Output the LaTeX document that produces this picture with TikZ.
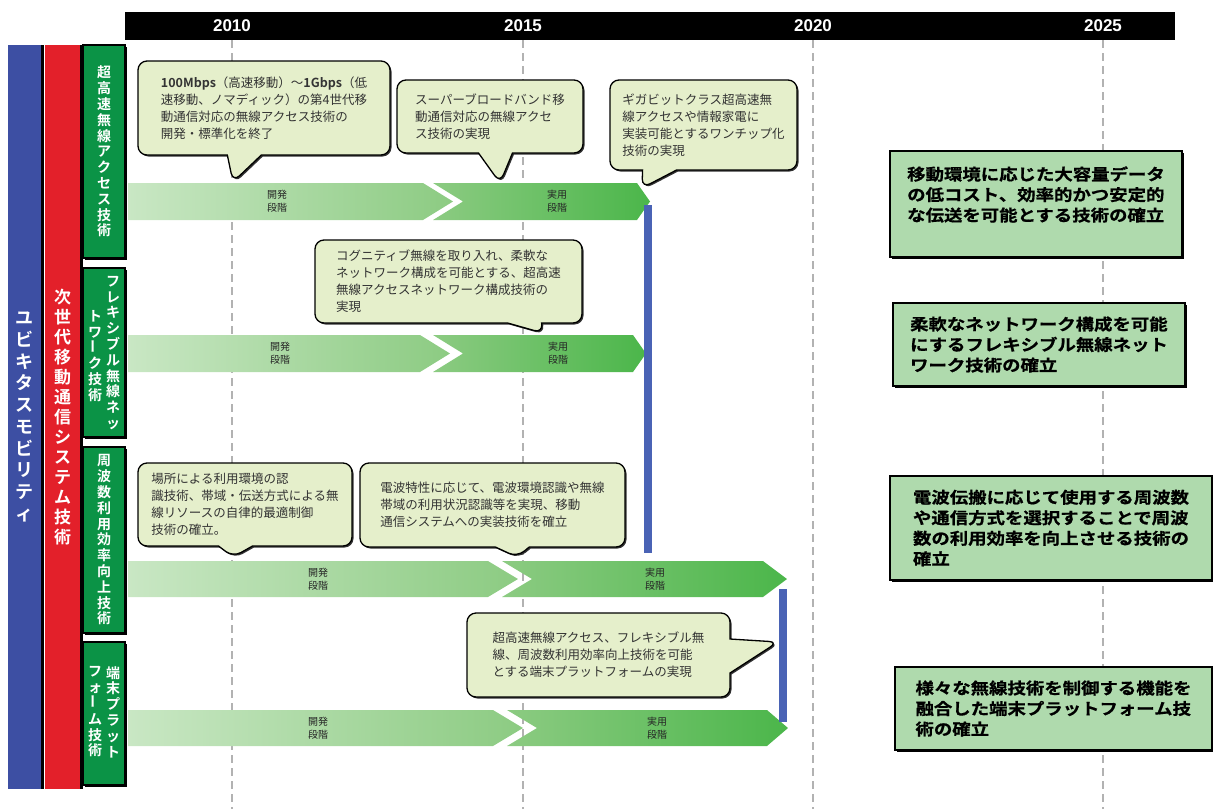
\documentclass[tikz,border=0pt]{standalone}
\usepackage{fontspec}
\setmainfont{Liberation Sans}
\newfontfamily\jp{Noto Sans CJK JP}[BoldFont={Noto Sans CJK JP Bold}]
\newfontfamily\jpwide{Noto Sans CJK JP Bold}[FakeStretch=1.15, FakeBold=0.8]
\usetikzlibrary{shapes.callouts,shadows}
\definecolor{ubiblue}{HTML}{3D4FA3}
\definecolor{sysred}{HTML}{E3202A}
\definecolor{techgreen}{HTML}{0B9346}
\definecolor{bubblefill}{HTML}{E5EFCB}
\definecolor{goalfill}{HTML}{AFDAAD}
\definecolor{stagelight}{HTML}{C9E7C4}
\definecolor{stagemid}{HTML}{8CCB82}
\definecolor{stagedark}{HTML}{4BB64A}
\definecolor{msblue}{HTML}{4A63B5}

\begin{document}
\begin{tikzpicture}[x=1pt, y=-1pt,
    yearlabel/.style={text=white, font=\bfseries\fontsize{17}{17}\selectfont},
    yearline/.style={draw=black!30, line width=2.5pt, dash pattern=on 8pt off 5pt},
    mainbar/.style={minimum height=744pt, inner sep=0pt, text=white, align=center,
      drop shadow={shadow xshift=3pt, shadow yshift=0pt, fill=black, opacity=1}},
    techbox/.style={draw=black, line width=1.5pt, fill=techgreen, minimum width=42pt,
      inner sep=0pt, text=white, align=center, font=\jp\bfseries\fontsize{14}{15.8}\selectfont,
      drop shadow={shadow xshift=2pt, shadow yshift=-2pt, fill=black, opacity=1}},
    techtext/.style={text=white, align=center, inner sep=0pt, font=\jp\bfseries\fontsize{14}{15.8}\selectfont},
    bubble/.style={rectangle callout, rounded corners=9pt, draw=black, line width=1.3pt,
      fill=bubblefill, callout pointer width=34pt, align=left, inner sep=0pt, text=black!80,
      font=\jp\fontsize{12.5}{17}\selectfont,
      drop shadow={shadow xshift=1.5pt, shadow yshift=-1.5pt, fill=black!80, opacity=1}},
    goal/.style={draw=black, line width=1.3pt, fill=goalfill, align=left, inner sep=0pt,
      font=\jpwide\fontsize{16}{20.5}\selectfont,
      drop shadow={shadow xshift=2pt, shadow yshift=-2pt, fill=black, opacity=1}},
    stage/.style={align=center, inner sep=0pt, text=black!85, font=\jp\fontsize{10}{13}\selectfont},
    milestone/.style={draw=msblue, line width=8pt}]
  \useasboundingbox (0,0) rectangle (1213,809);

  \node[fill=black, minimum width=1050pt, minimum height=28pt, inner sep=0pt] (timeline) at (650,26) {};
  \node[yearlabel] (y2010) at (232,26) {2010};
  \node[yearlabel] (y2015) at (523,26) {2015};
  \node[yearlabel] (y2020) at (813,26) {2020};
  \node[yearlabel] (y2025) at (1103,26) {2025};
  \draw[yearline] (232,40) -- (232,809);
  \draw[yearline] (523,40) -- (523,809);
  \draw[yearline] (813,40) -- (813,809);
  \draw[yearline] (1103,40) -- (1103,809);

  \node[mainbar, minimum width=33pt, fill=ubiblue, font=\jp\bfseries\fontsize{18}{21.7}\selectfont]
    (ubi) at (24.5,417) {ユ\\ビ\\キ\\タ\\ス\\モ\\ビ\\リ\\テ\\ィ};
  \node[mainbar, minimum width=35pt, fill=sysred, font=\jp\bfseries\fontsize{17}{20}\selectfont]
    (sys) at (62.5,417) {次\\世\\代\\移\\動\\通\\信\\シ\\ス\\テ\\ム\\技\\術};

  \node[techbox, minimum height=213pt] (tech1) at (104,151.5) {超\\高\\速\\無\\線\\ア\\ク\\セ\\ス\\技\\術};
  \node[techbox, minimum height=169pt] (tech2) at (104,352.5) {};
  \node[techtext] (tech2r) at (113,353) {フ\\レ\\キ\\シ\\ブ\\ル\\無\\線\\ネ\\ッ};
  \node[techtext] (tech2l) at (95,356) {ト\\ワ\\\rotatebox{90}{ー}\\ク\\技\\術};
  \node[techbox, minimum height=186pt] (tech3) at (104,540) {周\\波\\数\\利\\用\\効\\率\\向\\上\\技\\術};
  \node[techbox, minimum height=143pt] (tech4) at (104,713.5) {};
  \node[techtext] (tech4r) at (113,712) {端\\末\\プ\\ラ\\ッ\\ト};
  \node[techtext] (tech4l) at (95,712) {フ\\ォ\\\rotatebox{90}{ー}\\ム\\技\\術};

  \shade[left color=stagelight, right color=stagemid] (128,183) -- (423,183) -- (453,201.5) -- (423,220) -- (128,220) -- cycle;
  \shade[left color=stagemid, right color=stagedark] (433,183) -- (637,183) -- (650,201.5) -- (637,220) -- (433,220) -- (463,201.5) -- cycle;
  \shade[left color=stagelight, right color=stagemid] (128,335) -- (420,335) -- (450,353.5) -- (420,372) -- (128,372) -- cycle;
  \shade[left color=stagemid, right color=stagedark] (433,335) -- (633,335) -- (646,353.5) -- (633,372) -- (433,372) -- (463,353.5) -- cycle;
  \shade[left color=stagelight, right color=stagemid] (128,561) -- (488,561) -- (518,579) -- (488,597) -- (128,597) -- cycle;
  \shade[left color=stagemid, right color=stagedark] (502,561) -- (763,561) -- (787,579) -- (763,597) -- (502,597) -- (532,579) -- cycle;
  \shade[left color=stagelight, right color=stagemid] (128,710) -- (493,710) -- (523,728) -- (493,746) -- (128,746) -- cycle;
  \shade[left color=stagemid, right color=stagedark] (507,710) -- (767,710) -- (788,728) -- (767,746) -- (507,746) -- (537,728) -- cycle;

  \node[stage] (dev1) at (277,201.5) {開発\\段階};
  \node[stage] (use1) at (557,201.5) {実用\\段階};
  \node[stage] (dev2) at (280,353.5) {開発\\段階};
  \node[stage] (use2) at (558,353.5) {実用\\段階};
  \node[stage] (dev3) at (318,579) {開発\\段階};
  \node[stage] (use3) at (655,579) {実用\\段階};
  \node[stage] (dev4) at (318,728) {開発\\段階};
  \node[stage] (use4) at (657,728) {実用\\段階};

  \coordinate (ms1top) at (648,205);
  \coordinate (ms1bot) at (648,553);
  \coordinate (ms2top) at (783,589);
  \coordinate (ms2bot) at (783,722);
  \draw[milestone] (ms1top) -- (ms1bot);
  \draw[milestone] (ms2top) -- (ms2bot);

  \node[bubble, minimum width=252pt, minimum height=94pt, callout absolute pointer={(233,182)}] (note1) at (264,108)
    {\textbf{100Mbps}（高速移動）～\textbf{1Gbps}（低\\速移動、ノマディック）の第4世代移\\動通信対応の無線アクセス技術の\\開発・標準化を終了};
  \node[bubble, minimum width=186pt, minimum height=73pt, callout absolute pointer={(500,183)}] (note2) at (490,116.5)
    {スーパーブロードバンド移\\動通信対応の無線アクセ\\ス技術の実現};
  \node[bubble, minimum width=187pt, minimum height=90pt, callout absolute pointer={(642,188)}] (note3) at (703.5,125)
    {ギガビットクラス超高速無\\線アクセスや情報家電に\\実装可能とするワンチップ化\\技術の実現};
  \node[bubble, minimum width=267pt, minimum height=83pt, callout absolute pointer={(543,333)}] (note4) at (448.5,281.5)
    {コグニティブ無線を取り入れ、柔軟な\\ネットワーク構成を可能とする、超高速\\無線アクセスネットワーク構成技術の\\実現};
  \node[bubble, minimum width=214pt, minimum height=83pt, callout absolute pointer={(233,557)}] (note5) at (245,504.5)
    {場所による利用環境の認\\識技術、帯域・伝送方式による無\\線リソースの自律的最適制御\\技術の確立。};
  \node[bubble, minimum width=265pt, minimum height=84pt, callout absolute pointer={(517,557)}] (note6) at (492.5,505)
    {電波特性に応じて、電波環境認識や無線\\帯域の利用状況認識等を実現、移動\\通信システムへの実装技術を確立};
  \node[bubble, minimum width=263pt, minimum height=84pt, callout absolute pointer={(778,642)}] (note7) at (598.5,655)
    {超高速無線アクセス、フレキシブル無\\線、周波数利用効率向上技術を可能\\とする端末プラットフォームの実現};

  \node[goal, minimum width=292pt, minimum height=106pt] (goal1) at (1036,204)
    {移動環境に応じた大容量データ\\の低コスト、効率的かつ安定的\\な伝送を可能とする技術の確立\\\mbox{}};
  \node[goal, minimum width=292pt, minimum height=83pt] (goal2) at (1039,344.5)
    {柔軟なネットワーク構成を可能\\にするフレキシブル無線ネット\\ワーク技術の確立};
  \node[goal, minimum width=322pt, minimum height=104pt] (goal3) at (1051,528)
    {電波伝搬に応じて使用する周波数\\や通信方式を選択することで周波\\数の利用効率を向上させる技術の\\確立};
  \node[goal, minimum width=317pt, minimum height=83pt] (goal4) at (1053.5,708.5)
    {様々な無線技術を制御する機能を\\融合した端末プラットフォーム技\\術の確立};
\end{tikzpicture}
\end{document}
